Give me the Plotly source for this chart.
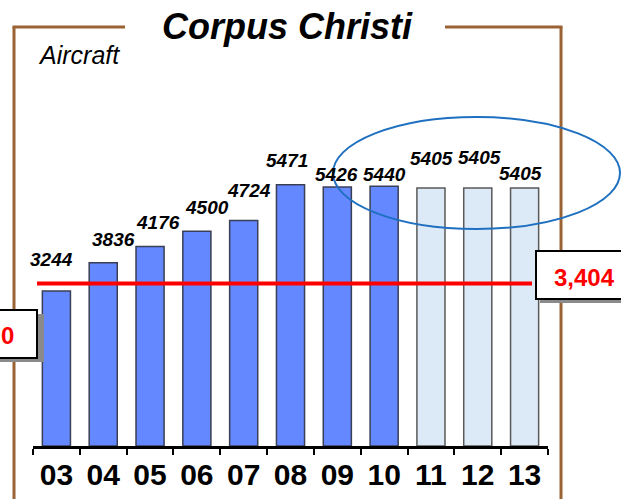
import plotly.graph_objects as go

years = ["03", "04", "05", "06", "07", "08", "09", "10", "11", "12", "13"]
aircraft = [3244, 3836, 4176, 4500, 4724, 5471, 5426, 5440, 5405, 5405, 5405]
is_forecast = [False] * 8 + [True] * 3
baseline_value = 3404
baseline_label = "3,404"
left_box_label = "0"
title_text = "Corpus Christi"
subtitle_text = "Aircraft"

# styling (pixel offsets for labels)
label_yshift = [32, 23, 24, 24, 30, 24, 12, 12, 29, 30, 14]
label_xshift = [-5, 10, 8, 10, 5, -4, -1, 0, 1, 2, -4]

FONT = "Liberation Sans, Arial, sans-serif"
W, H = 621, 499
L, R, T, B = 33, 548, 64, 446  # plot area pixels

def px(x):
    return (x - L) / (R - L)

def py(y):
    return (B - y) / (B - T)

colors = ["#dce9f7" if f else "#6488ff" for f in is_forecast]
lines = ["#5a5a5a" if f else "#3a3f55" for f in is_forecast]

fig = go.Figure()
fig.add_trace(go.Bar(
    x=years, y=aircraft,
    marker=dict(color=colors, line=dict(color=lines, width=1.5)),
    hoverinfo="x+y",
))

shapes = []
brown = "#9b6334"
# frame
shapes.append(dict(type="line", xref="paper", yref="paper", x0=px(14), x1=px(14), y0=py(27), y1=py(520), line=dict(color=brown, width=3)))
shapes.append(dict(type="line", xref="paper", yref="paper", x0=px(12.5), x1=px(125), y0=py(27), y1=py(27), line=dict(color=brown, width=3)))
shapes.append(dict(type="line", xref="paper", yref="paper", x0=px(445), x1=px(562.5), y0=py(27), y1=py(27), line=dict(color=brown, width=3)))
shapes.append(dict(type="line", xref="paper", yref="paper", x0=px(561), x1=px(561), y0=py(27), y1=py(520), line=dict(color=brown, width=3)))
# red baseline
shapes.append(dict(type="line", xref="paper", yref="y", x0=px(37), x1=px(532), y0=baseline_value, y1=baseline_value, line=dict(color="#ff0000", width=4)))
# ellipse
shapes.append(dict(type="circle", xref="paper", yref="paper", x0=px(333), x1=px(620), y0=py(229), y1=py(117), line=dict(color="#1f70c0", width=2)))
# right box shadow + box
shapes.append(dict(type="rect", xref="paper", yref="paper", x0=px(540), x1=px(640), y0=py(303), y1=py(255), fillcolor="#8a8a8a", line=dict(width=0)))
shapes.append(dict(type="rect", xref="paper", yref="paper", x0=px(536), x1=px(640), y0=py(299), y1=py(251), fillcolor="white", line=dict(color="black", width=2)))
# left box shadow + box
shapes.append(dict(type="rect", xref="paper", yref="paper", x0=px(-20), x1=px(44), y0=py(362), y1=py(314), fillcolor="#8a8a8a", line=dict(width=0)))
shapes.append(dict(type="rect", xref="paper", yref="paper", x0=px(-20), x1=px(37), y0=py(358), y1=py(310), fillcolor="white", line=dict(color="black", width=2)))

annotations = []
for i, v in enumerate(aircraft):
    annotations.append(dict(
        x=i, y=v, xref="x", yref="y", text=str(v), showarrow=False,
        xanchor="center", yanchor="middle",
        yshift=label_yshift[i], xshift=label_xshift[i],
        font=dict(family=FONT, size=19, color="black", weight="bold", style="italic"),
    ))
annotations.append(dict(x=px(287), y=py(26), xref="paper", yref="paper", text=title_text, showarrow=False,
                        xanchor="center", yanchor="middle",
                        font=dict(family=FONT, size=36, color="black", weight="bold", style="italic")))
annotations.append(dict(x=px(36), y=py(55), xref="paper", yref="paper", text=subtitle_text, showarrow=False,
                        xanchor="left", yanchor="middle",
                        font=dict(family=FONT, size=25, color="black", style="italic")))
annotations.append(dict(x=px(552), y=py(277), xref="paper", yref="paper", text=baseline_label, showarrow=False,
                        xanchor="left", yanchor="middle",
                        font=dict(family=FONT, size=24, color="#ff0000", weight="bold")))
annotations.append(dict(x=px(-1), y=py(335), xref="paper", yref="paper", text=left_box_label, showarrow=False,
                        xanchor="left", yanchor="middle",
                        font=dict(family=FONT, size=24, color="#ff0000", weight="bold")))

fig.update_layout(
    width=W, height=H,
    margin=dict(l=L, r=W - R, t=T, b=H - B, pad=0, autoexpand=False),
    paper_bgcolor="white", plot_bgcolor="white",
    showlegend=False, bargap=0.4,
    shapes=shapes, annotations=annotations,
    xaxis=dict(type="category", categoryorder="array", categoryarray=years,
               range=[-0.5, len(years) - 0.5], autorange=False,
               showline=True, linecolor="black", linewidth=3,
               ticks="outside", tickson="boundaries", ticklen=6, tickwidth=2, tickcolor="black",
               tickangle=0, automargin=False,
               tickfont=dict(family=FONT, size=30, color="black", weight="bold"),
               showgrid=False, zeroline=False),
    yaxis=dict(range=[0, 8000], visible=False, showgrid=False, zeroline=False),
)

fig.write_html("out.html", config={"displayModeBar": False},
               post_script="document.body.style.margin='0';document.body.style.overflow='hidden';")
